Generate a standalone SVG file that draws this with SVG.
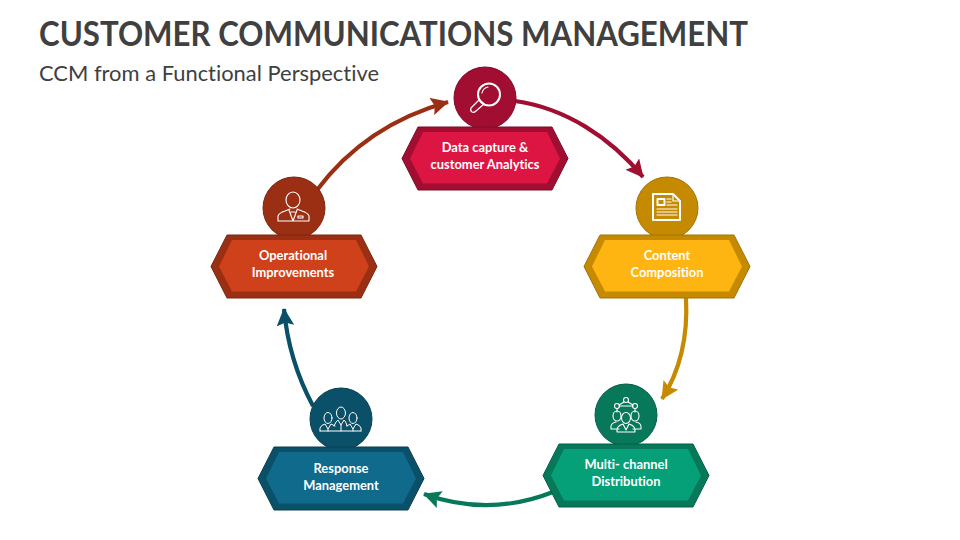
<svg xmlns="http://www.w3.org/2000/svg" width="960" height="540" viewBox="0 0 960 540">
<style>
text{font-family:Lato,"Open Sans","Liberation Sans",sans-serif;font-variant-ligatures:none}
.t{font-size:35px;font-weight:700;fill:#404040}
.s{font-size:21.5px;fill:#404040}
.l{font-size:12.9px;font-weight:700;fill:#fff;text-anchor:middle}
.c{fill:none;stroke-width:4.2px}
.i{fill:none;stroke:#fff;stroke-width:1.2px;stroke-linejoin:round;stroke-linecap:round}
.b{stroke-width:2px}
</style>
<defs>
<polygon id="ho" points="16,0 150,0 166,31.5 150,63 16,63 0,31.500" stroke-width="1"/>
<polygon id="hi" points="21,5 145,5 158,31.5 145,56.500 21,56.500 8,31.500"/>
<marker id="a1" viewBox="0 0 4 4" refX="3.8" refY="2" markerWidth="4.200" markerHeight="4.200" orient="auto"><path d="M0,0L4,2L0,4L.7,2Z" fill="#A10E32"/></marker>
<marker id="a2" viewBox="0 0 4 4" refX="3.8" refY="2" markerWidth="4.200" markerHeight="4.200" orient="auto"><path d="M0,0L4,2L0,4L.7,2Z" fill="#C68A00"/></marker>
<marker id="a3" viewBox="0 0 4 4" refX="3.8" refY="2" markerWidth="4.200" markerHeight="4.200" orient="auto"><path d="M0,0L4,2L0,4L.7,2Z" fill="#07795A"/></marker>
<marker id="a4" viewBox="0 0 4 4" refX="3.8" refY="2" markerWidth="4.200" markerHeight="4.200" orient="auto"><path d="M0,0L4,2L0,4L.7,2Z" fill="#0A5068"/></marker>
<marker id="a5" viewBox="0 0 4 4" refX="3.8" refY="2" markerWidth="4.200" markerHeight="4.200" orient="auto"><path d="M0,0L4,2L0,4L.7,2Z" fill="#9A2F14"/></marker>
</defs>
<rect width="960" height="540" fill="#fff"/>
<text class="t" x="39" y="46" textLength="709" lengthAdjust="spacingAndGlyphs">CUSTOMER COMMUNICATIONS MANAGEMENT</text>
<text class="s" x="39" y="81" textLength="340" lengthAdjust="spacingAndGlyphs">CCM from a Functional Perspective</text>
<g id="connectors">
<path class="c" stroke="#A10E32" marker-end="url(#a1)" d="M515,101C565,108 610,137 643,177"/>
<path class="c" stroke="#C68A00" marker-end="url(#a2)" d="M686,298C688,335 681,369 662,399"/>
<path class="c" stroke="#07795A" marker-end="url(#a3)" d="M553,492C510,509 466,509 424,494"/>
<path class="c" stroke="#0A5068" marker-end="url(#a4)" d="M313,406C297,376 287,343 284,309"/>
<path class="c" stroke="#9A2F14" marker-end="url(#a5)" d="M317,190C350,146 394,117 448,102"/>
</g>
<g id="node-data-capture">
<circle cx="485" cy="98" r="31" fill="#A10E32" stroke="#7d0b27"/>
<use href="#ho" x="402" y="127" fill="#A10E32" stroke="#7d0b27"/><use href="#hi" x="402" y="127" fill="#DC1543"/>
<circle class="i b" cx="489" cy="94.500" r="11"/><path class="i" d="M482,102L479,100L471,108Q470,111 472,112Q474,113 476,111L484,104Z"/><path class="i" d="M482,93Q483,88 488,87"/>
<text class="l" x="485" y="152">Data capture &amp;</text><text class="l" x="485" y="169">customer Analytics</text>
</g>
<g id="node-content-composition">
<circle cx="667" cy="208" r="31" fill="#C68A00" stroke="#a47200"/>
<use href="#ho" x="584" y="235" fill="#C68A00" stroke="#a47200"/><use href="#hi" x="584" y="235" fill="#FFB511"/>
<path class="i b" d="M653,194H673L680,201V220H653Z"/><path class="i" d="M673,194V201H680"/>
<rect class="i b" x="657.500" y="199" width="7" height="6"/>
<path class="i" d="M667,199H671M667,202H671M667,205H677M657,209H677M657,212H677M657,215H677"/>
<text class="l" x="667" y="260">Content</text><text class="l" x="667" y="277">Composition</text>
</g>
<g id="node-multichannel">
<circle cx="626" cy="415" r="31" fill="#07795A" stroke="#055f47"/>
<use href="#ho" x="543" y="444" fill="#07795A" stroke="#055f47"/><use href="#hi" x="543" y="444" fill="#05A077"/>
<g class="i" style="stroke-width:1.100px"><circle cx="626" cy="400" r="2.500"/><circle cx="617" cy="406" r="2.500"/><circle cx="635" cy="406" r="2.500"/><path d="M619,406H633M624,402L619,405M628,402L633,405M617,409V412M635,409V412"/>
<ellipse cx="617" cy="416" rx="4" ry="5"/><ellipse cx="635" cy="416" rx="4" ry="5"/><ellipse cx="626" cy="418" rx="4.500" ry="5.500"/>
<path d="M611,429Q610,423 616,422M641,429Q642,423 636,422M611,429H619M633,429H641M617,432Q616,426 623,424L626,430L629,424Q636,426 635,432Z"/></g>
<text class="l" x="626" y="469">Multi- channel</text><text class="l" x="626" y="486">Distribution</text>
</g>
<g id="node-response">
<circle cx="341" cy="419" r="31" fill="#0A5068" stroke="#083f52"/>
<use href="#ho" x="258" y="447" fill="#0A5068" stroke="#083f52"/><use href="#hi" x="258" y="447" fill="#0F6A8B"/>
<g class="i" style="stroke-width:1px"><ellipse cx="328" cy="418" rx="4" ry="5.500"/><ellipse cx="341" cy="413" rx="4.500" ry="6"/><ellipse cx="353" cy="418" rx="4" ry="5.500"/>
<path d="M320,431V428Q321,425 325,424L328,429L331,424L335,426M361,431V428Q360,425 356,424L353,429L350,424L347,426M320,431H361M334,426Q336,421 338,420L341,425L344,420Q346,421 347,426M341,425V431M328,429V431M353,429V431"/></g>
<text class="l" x="341" y="473">Response</text><text class="l" x="341" y="490">Management</text>
</g>
<g id="node-operational">
<circle cx="294" cy="208" r="31" fill="#9A2F14" stroke="#7c250f"/>
<use href="#ho" x="211" y="235" fill="#9A2F14" stroke="#7c250f"/><use href="#hi" x="211" y="235" fill="#CF411B"/>
<g class="i" style="stroke-width:1.100px"><ellipse cx="293" cy="200" rx="7" ry="8"/><path d="M278,221V216Q279,213 285,211L290,209M309,221V216Q308,213 302,211L297,209M278,221H309M289,210L293,221L297,210M291,212H295"/><rect x="298" y="216" width="5" height="2"/></g>
<text class="l" x="293" y="260">Operational</text><text class="l" x="293" y="277">Improvements</text>
</g>
</svg>
